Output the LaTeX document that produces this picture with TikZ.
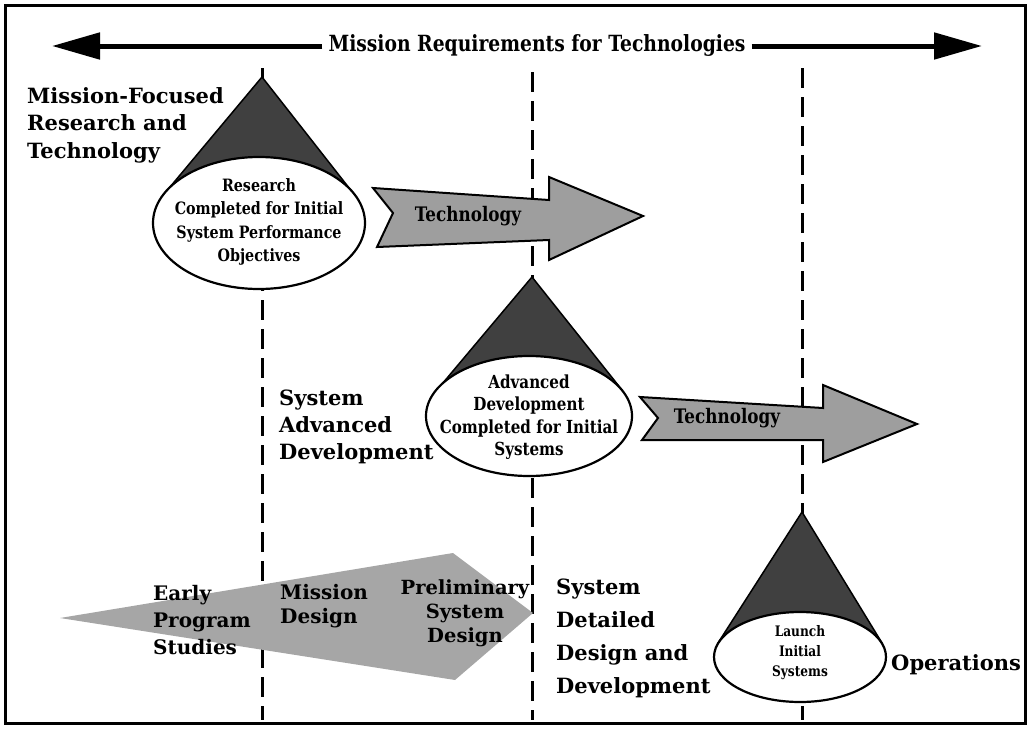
\documentclass[tikz,border=0pt]{standalone}
\usepackage{fontspec}
\setmainfont{DejaVu Serif}
\newfontfamily\condfont[FakeStretch=0.84]{DejaVu Serif}
\usetikzlibrary{shapes.geometric,arrows.meta}
\begin{document}
\begin{tikzpicture}[x=1pt,y=-1pt,
  outerframe/.style={draw,line width=3pt},
  dashline/.style={line width=3pt,dash pattern=on 20pt off 9pt},
  conefill/.style={fill=black!75,draw=black,line width=1.5pt,line join=round},
  oval/.style={ellipse,draw,fill=white,line width=2.2pt,inner sep=0pt},
  ovaltext/.style={font=\condfont\bfseries\fontsize{17}{23.5}\selectfont,align=center,inner sep=0pt},
  techarrow/.style={fill=black!38,draw=black,line width=2pt,line join=miter},
  techtext/.style={font=\condfont\bfseries\fontsize{20}{24}\selectfont,inner sep=0pt},
  biglabel/.style={font=\bfseries\fontsize{21}{28}\selectfont,align=left,inner sep=0pt,anchor=west},
  difftext/.style={font=\bfseries\fontsize{20}{27}\selectfont,inner sep=0pt},
  reqline/.style={line width=5pt,-{Triangle[length=48pt,width=26pt]}}
]
\useasboundingbox (0,0) rectangle (1030,728);
\draw[outerframe] (5,5) rectangle (1025,723);

% top double arrow
\node[font=\condfont\bfseries\fontsize{22.3}{25}\selectfont,inner xsep=6pt] (req) at (537,46) {Mission Requirements for Technologies};
\coordinate (reqL) at (52,46);
\coordinate (reqR) at (982,46);
\draw[reqline] (req.west) -- (reqL);
\draw[reqline] (req.east) -- (reqR);

% dashed phase lines
\coordinate (d1t) at (262,68); \coordinate (d1b) at (262,720);
\coordinate (d2t) at (532,72); \coordinate (d2b) at (532,720);
\coordinate (d3t) at (802,68); \coordinate (d3b) at (802,720);
\draw[dashline] (d1t) -- (d1b);
\draw[dashline] (d2t) -- (d2b);
\draw[dashline] (d3t) -- (d3b);

% bottom diamond
\fill[black!35] (60,618) -- (453,553) -- (533,613) -- (455,680) -- cycle;
\node[difftext,align=left,anchor=west] (early) at (153,620) {Early\\Program\\Studies};
\node[difftext,font=\bfseries\fontsize{20}{24}\selectfont,align=left,anchor=west] (mdes) at (280,606) {Mission\\Design};
\node[difftext,font=\bfseries\fontsize{19.5}{24}\selectfont,align=center] (psd) at (465,613) {Preliminary\\System\\Design};

% technology arrows
\fill[techarrow] (373,188) -- (549,200) -- (549,177) -- (643,216) -- (549,260) -- (549,240) -- (377,247) -- (393,213) -- cycle;
\node[techtext] (tech1) at (468,216) {Technology};
\fill[techarrow] (640,397) -- (823,408) -- (823,385) -- (917,424) -- (823,462) -- (823,440) -- (642,440) -- (658,418) -- cycle;
\node[techtext] (tech2) at (727,418) {Technology};

% cone 1
\coordinate (apex1) at (262,77);
\draw[conefill] (apex1) -- (165,193) -- (353,193) -- cycle;
\node[oval,minimum width=212pt,minimum height=132pt] (o1) at (259,223) {};
\node[ovaltext] (t1) at (259,222) {Research\\Completed for Initial\\System Performance\\Objectives};

% cone 2
\coordinate (apex2) at (532,277);
\draw[conefill] (apex2) -- (437,390) -- (622,390) -- cycle;
\node[oval,minimum width=206pt,minimum height=120pt] (o2) at (529,416) {};
\node[ovaltext,font=\condfont\bfseries\fontsize{18}{22.5}\selectfont] (t2) at (529,417) {Advanced\\Development\\Completed for Initial\\Systems};

% cone 3
\coordinate (apex3) at (802,512);
\draw[conefill] (apex3) -- (718,643) -- (882,643) -- cycle;
\node[oval,minimum width=172pt,minimum height=90pt] (o3) at (800,657) {};
\node[ovaltext,font=\condfont\bfseries\fontsize{14.5}{20}\selectfont] (t3) at (800,653) {Launch\\Initial\\Systems};

% labels
\node[biglabel,font=\bfseries\fontsize{21}{27.5}\selectfont] (mfrt) at (27,125) {Mission-Focused\\Research and\\Technology};
\node[biglabel,font=\bfseries\fontsize{21}{27}\selectfont] (sad) at (279,427) {System\\Advanced\\Development};
\node[biglabel,font=\bfseries\fontsize{21}{33}\selectfont] (sddd) at (556,638) {System\\Detailed\\Design and\\Development};
\node[biglabel] (ops) at (891,665) {Operations};
\end{tikzpicture}
\end{document}
